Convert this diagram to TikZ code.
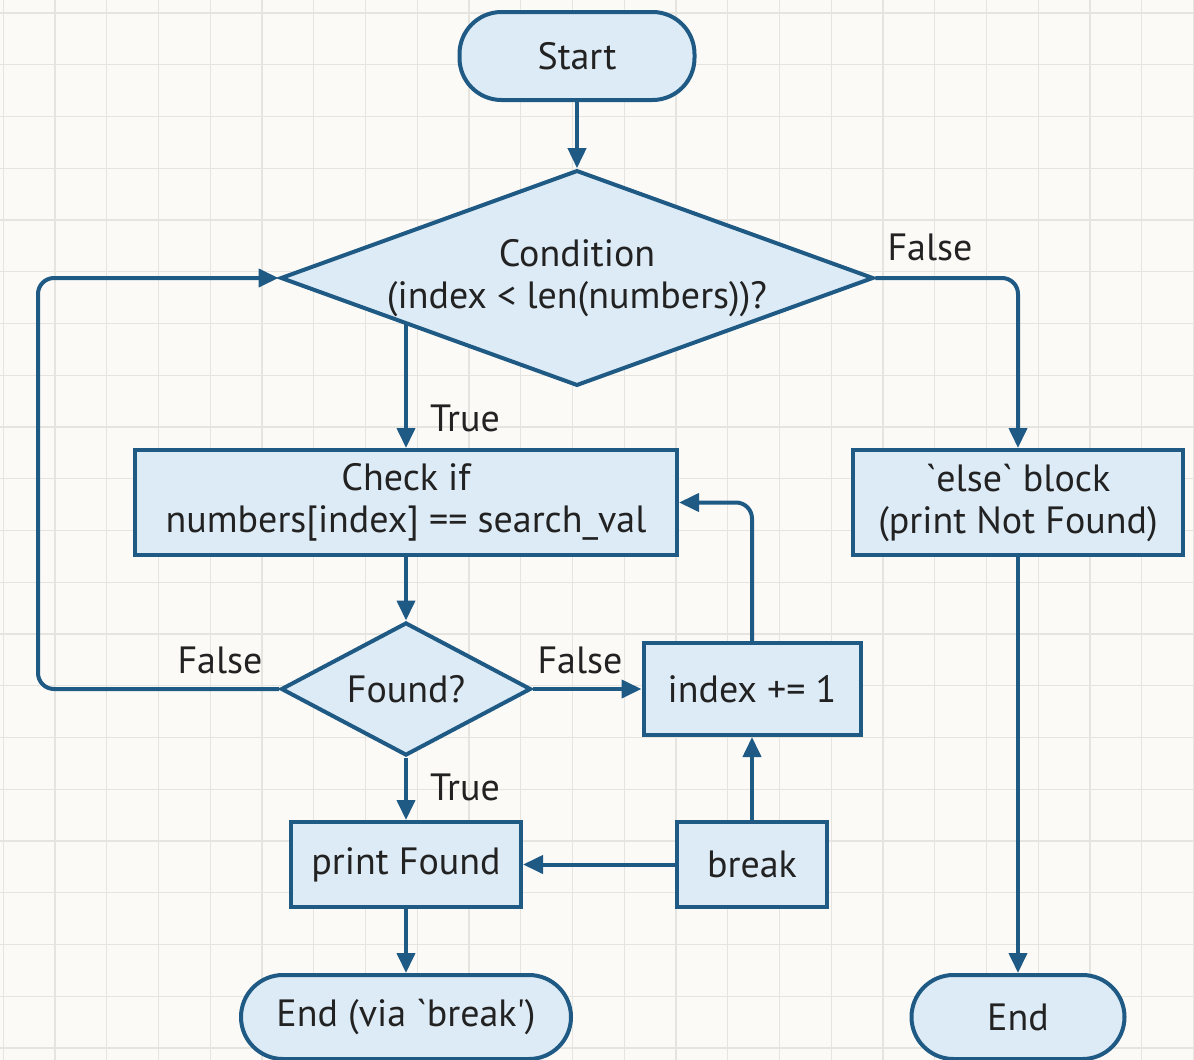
\documentclass[tikz,border=0pt]{standalone}
\usepackage{fontspec}
\setmainfont{PT Sans}
\usetikzlibrary{shapes.geometric,arrows.meta}
\definecolor{edge}{HTML}{1F5A85}
\definecolor{boxfill}{HTML}{DDEBF6}
\definecolor{paper}{HTML}{FBFAF7}
\definecolor{gridline}{HTML}{E6E4DF}
\definecolor{ink}{HTML}{222222}
\begin{document}
\begin{tikzpicture}[x=0.5pt,y=-0.5pt,
  every node/.style={font=\fontsize{19}{21}\selectfont, text=ink},
  shapebase/.style={draw=edge, fill=boxfill, line width=2pt, align=center, inner sep=0pt},
  block/.style={shapebase, rectangle},
  terminal/.style={shapebase, rectangle, rounded corners=21pt},
  decision/.style={shapebase, diamond, aspect=2.75},
  flow/.style={draw=edge, line width=2pt, rounded corners=8pt, -{Triangle[length=10pt,width=9pt]}},
  tag/.style={inner sep=0pt}
]
% paper and grid
\useasboundingbox (0,0) rectangle (1194,1060);
\fill[paper] (0,0) rectangle (1194,1060);
\begin{scope}
\clip (0,0) rectangle (1194,1060);
\foreach \i in {0,...,23} {\draw[gridline, line width=0.6pt] (3.25+51.75*\i,0) -- ++(0,1060);}
\foreach \i in {0,...,21} {\draw[gridline, line width=0.6pt] (0,13+51.75*\i) -- ++(1194,0);}
\end{scope}

% nodes
\node[terminal, minimum width=117.5pt, minimum height=44pt] (start) at (577,56) {Start};
\node[decision, minimum width=292.5pt, minimum height=106.5pt] (cond) at (577,278) {Condition\\(index < len(numbers))?};
\node[block, minimum width=271pt, minimum height=52.5pt] (check) at (406,502.5) {Check if\\numbers[index] == search\_val};
\node[decision, minimum width=125pt, minimum height=66.5pt] (found) at (406,689) {Found?};
\node[block, minimum width=108.5pt, minimum height=46pt] (inc) at (752,689) {index += 1};
\node[block, minimum width=115pt, minimum height=42.5pt] (print) at (406,864.5) {print Found};
\node[block, minimum width=75pt, minimum height=42.5pt] (brk) at (752,864.5) {break};
\node[terminal, minimum width=165pt, minimum height=42pt] (endb) at (406,1017) {End (via \textasciigrave break\textquotesingle)};
\node[block, minimum width=165pt, minimum height=52.5pt] (else) at (1018,502.5) {\textasciigrave else\textasciigrave{} block\\(print Not Found)};
\node[terminal, minimum width=106.5pt, minimum height=42pt] (endr) at (1018,1017) {End};
\coordinate (loopL) at (38,689);

% connectors
\draw[flow] (start) -- (cond);
\draw[flow] (cond.east) -| (else.north);
\draw[flow] (cond.194.35 -| check.north) -- (check.north);
\draw[flow] (check) -- (found);
\draw[flow] (found.east) -- (inc.west);
\draw[flow] (found.west) -- (loopL) |- (cond.west);
\draw[flow] (inc.north) |- (check.east);
\draw[flow] (found) -- (print);
\draw[flow] (brk.west) -- (print.east);
\draw[flow] (brk.north) -- (inc.south);
\draw[flow] (print) -- (endb);
\draw[flow] (else) -- (endr);

% branch labels
\node[tag] (lf1) at (930,247) {False};
\node[tag] (lt1) at (465,418) {True};
\node[tag] (lf2) at (220,660) {False};
\node[tag] (lf3) at (580,660) {False};
\node[tag] (lt2) at (465,787) {True};
\end{tikzpicture}
\end{document}
